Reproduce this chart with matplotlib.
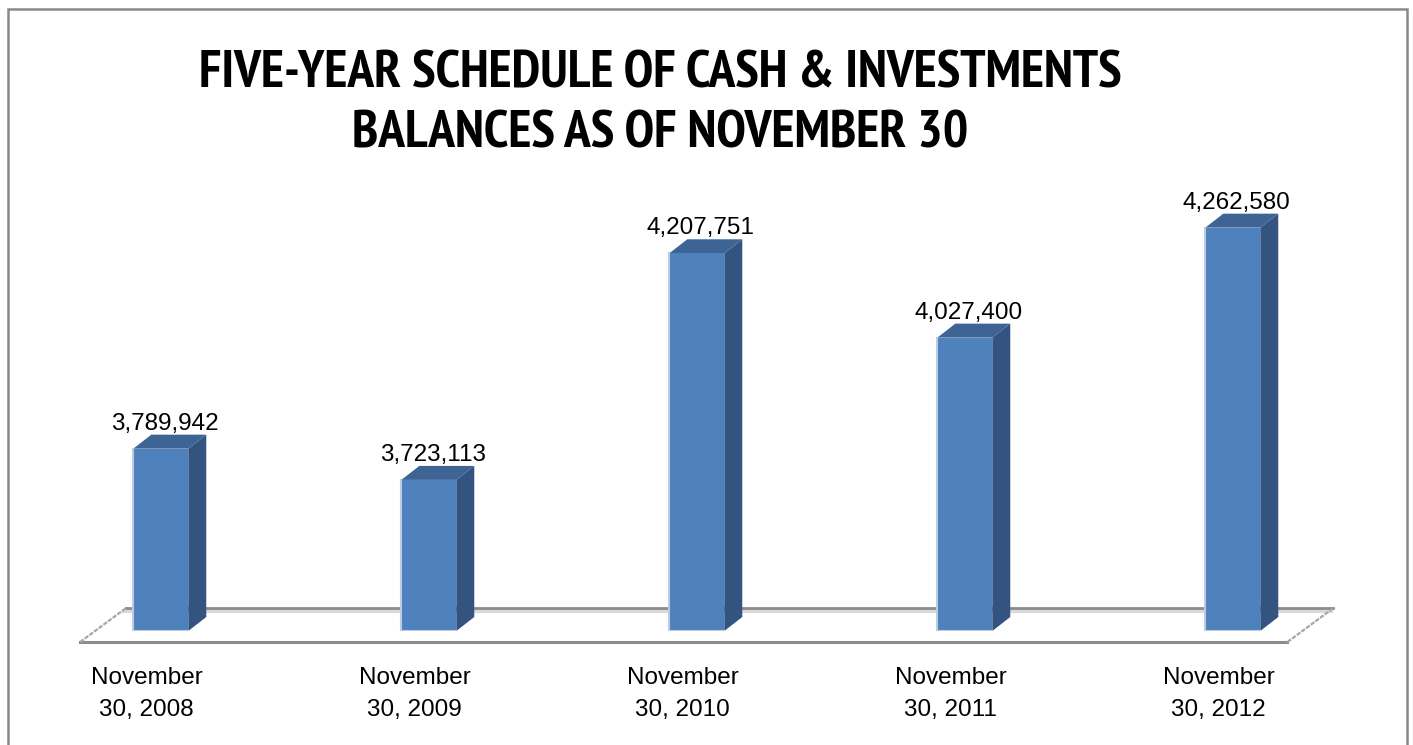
import matplotlib
matplotlib.use("Agg")
import matplotlib.pyplot as plt
from matplotlib.patches import Polygon, Rectangle
from matplotlib.lines import Line2D

# ---- data ----
categories = ["November\n30, 2008", "November\n30, 2009", "November\n30, 2010",
              "November\n30, 2011", "November\n30, 2012"]
values = [3789942, 3723113, 4207751, 4027400, 4262580]
value_labels = ["3,789,942", "3,723,113", "4,207,751", "4,027,400", "4,262,580"]
title = "FIVE-YEAR SCHEDULE OF CASH & INVESTMENTS\nBALANCES AS OF NOVEMBER 30"
y_min, y_max = 3400000, 4400000

# ---- style ----
FRONT = "#4F81BD"
SIDE = "#335380"
TOP = "#3E6496"
EDGE_HI = "#B9CDE5"
GRID = "#8C8C8C"
W, H, DPI = 1413, 745, 100
BAR_W = 0.205
DEPTH = (18, 14)          # bar depth in pixels (dx, dy up)
FLOOR_FRONT = (-15, -11)  # floor front edge offset from bar fronts (px)
FLOOR_BACK = (31, 23)     # floor back edge offset (px)
FLOOR_X = (-0.245, 4.26)

label_font = ["Liberation Sans", "Arimo", "DejaVu Sans"]
title_font = ["Liberation Sans Narrow", "Arial Narrow", "PT Sans Narrow",
              "Roboto Condensed", "DejaVu Sans"]

fig = plt.figure(figsize=(W / DPI, H / DPI), dpi=DPI)
fig.patch.set_facecolor("white")
ax = fig.add_axes([0.0, 114 / H, 1393.6 / W, 467.6 / H])
ax.set_xlim(-0.6, 4.6)
ax.set_ylim(y_min, y_max)
ax.axis("off")
fig.canvas.draw()


def off(x, y, dxp, dyp):
    p = ax.transData.transform((x, y))
    return tuple(ax.transData.inverted().transform((p[0] + dxp, p[1] + dyp)))


# outer border
fig.patches.append(Rectangle((8 / W, -0.05), 1399 / W, 1.05 - 9 / H,
                             transform=fig.transFigure, fill=False,
                             edgecolor="#898989", linewidth=1.8))

# floor
fl = off(FLOOR_X[0], y_min, *FLOOR_FRONT)
fr = off(FLOOR_X[1], y_min, *FLOOR_FRONT)
bl = off(FLOOR_X[0], y_min, *FLOOR_BACK)
br = off(FLOOR_X[1], y_min, *FLOOR_BACK)
ax.add_patch(Polygon([fl, fr, br, bl], closed=True, facecolor="white",
                     edgecolor="none", clip_on=False, zorder=1))
bl2 = off(FLOOR_X[0], y_min, FLOOR_BACK[0] - 2, FLOOR_BACK[1] - 3)
br2 = off(FLOOR_X[1], y_min, FLOOR_BACK[0] - 2, FLOOR_BACK[1] - 3)
ax.add_line(Line2D([bl2[0], br2[0]], [bl2[1], br2[1]], color="#D9D9D9",
                   linewidth=3, clip_on=False, zorder=1.1))
ax.add_line(Line2D([bl[0], br[0]], [bl[1], br[1]], color=GRID,
                   linewidth=2, clip_on=False, zorder=1.2))
ax.add_line(Line2D([fl[0], fr[0]], [fl[1], fr[1]], color=GRID,
                   linewidth=2.2, clip_on=False, zorder=1.2))
for a, b in ((fl, bl), (fr, br)):
    ax.add_line(Line2D([a[0], b[0]], [a[1], b[1]], color="#A8A8A8",
                       linewidth=1.6, linestyle=(0, (2, 0.6)),
                       clip_on=False, zorder=1.2))

# bars
xs = list(range(len(values)))
bars = ax.bar(xs, [v - y_min for v in values], bottom=y_min, width=BAR_W,
              color=FRONT, linewidth=0, zorder=3)
for x, v in zip(xs, values):
    l, r = x - BAR_W / 2, x + BAR_W / 2
    side = [(r, y_min), (r, v), off(r, v, *DEPTH), off(r, y_min, *DEPTH)]
    top = [(l, v), (r, v), off(r, v, *DEPTH), off(l, v, *DEPTH)]
    ax.add_patch(Polygon(side, closed=True, facecolor=SIDE, edgecolor="none",
                         zorder=2.9))
    ax.add_patch(Polygon(top, closed=True, facecolor=TOP, edgecolor="none",
                         zorder=2.9))
    ax.add_line(Line2D([l, l, r], [v, y_min, y_min], color=EDGE_HI,
                       linewidth=1.5, zorder=3.1))

# value labels
for x, v, t in zip(xs, values, value_labels):
    ax.annotate(t, (x, v), xytext=(4, 19), textcoords="offset pixels",
                ha="center", va="baseline", fontsize=17.5,
                family=label_font, color="black", zorder=5)

# category labels
for x, c in zip(xs, categories):
    ax.annotate(c, (x, y_min), xytext=(-14, -36), textcoords="offset pixels",
                ha="center", va="top", fontsize=17.5, family=label_font,
                linespacing=1.6, multialignment="center", color="black",
                annotation_clip=False)

# title
fig.text(660.5 / W, 1 - 148 / H, title, ha="center", va="baseline",
         fontsize=38.5, fontweight="bold", family=title_font,
         linespacing=1.33, multialignment="center")

fig.savefig("out.png", dpi=DPI, facecolor="white")
